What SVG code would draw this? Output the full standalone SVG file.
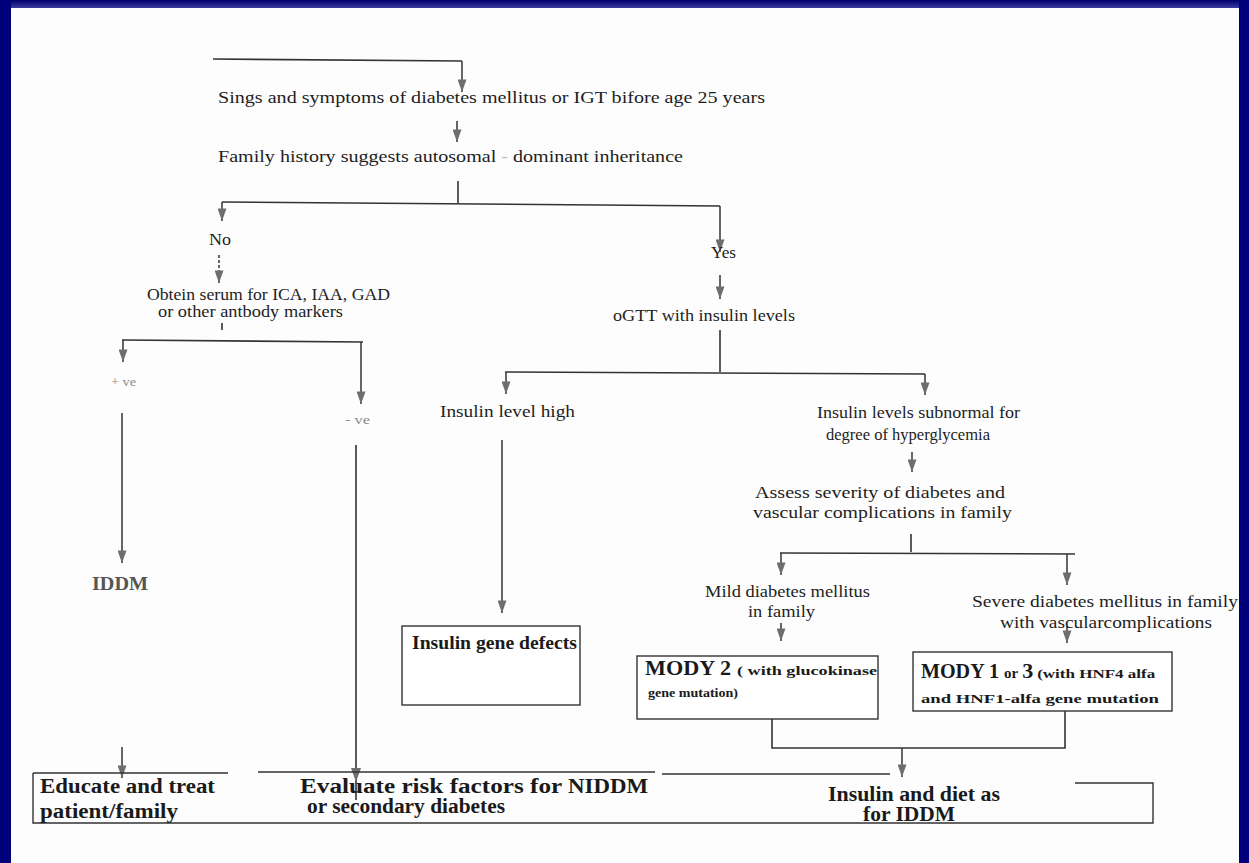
<svg xmlns="http://www.w3.org/2000/svg" width="1249" height="863" viewBox="0 0 1249 863">
<defs>
<style>
.t{font-family:"Liberation Serif","Times New Roman",serif;font-size:17px;fill:#1e1e1e}
.b{font-family:"Liberation Serif","Times New Roman",serif;font-weight:bold;fill:#1a1a1a}
.g{font-family:"Liberation Serif","Times New Roman",serif;font-size:13px;fill:#8a8a8a}
.ln{stroke:#333;stroke-width:1.6;fill:none}
.bx{stroke:#333;stroke-width:1.4;fill:#fff}
.ar{stroke:#333;stroke-width:1.5;fill:none;marker-end:url(#ah)}
</style>
<marker id="ah" viewBox="0 0 14 10" refX="14" refY="5" markerWidth="13" markerHeight="9" markerUnits="userSpaceOnUse" orient="auto">
<path d="M0,0 L14,5 L0,10 Z" fill="#6e6e6e"/>
</marker>
<linearGradient id="topg" x1="0" y1="0" x2="0" y2="1">
<stop offset="0" stop-color="#00006e"/>
<stop offset="1" stop-color="#3a3aa0"/>
</linearGradient>
</defs>
<rect x="0" y="0" width="1249" height="863" fill="#fdfdfd"/>
<g id="frame">
<rect x="0" y="0" width="1249" height="8" fill="url(#topg)"/>
<rect x="0" y="0" width="11" height="863" fill="#00007a"/>
<rect x="1239" y="0" width="10" height="863" fill="#00007a"/>
</g>
<g id="connectors">
<path class="ln" d="M213,59 L462,61"/>
<path class="ar" d="M462,61 L462,92"/>
<path class="ar" d="M457,121 L457,142"/>
<path class="ln" d="M458,181 L458,203"/>
<path class="ln" d="M222,202 L720,206"/>
<path class="ar" d="M222,202 L222,221"/>
<path class="ar" d="M219,255 L219,283" stroke-dasharray="3,2"/>
<path class="ln" d="M222,323 L222,330"/>
<path class="ln" d="M122,340 L363,342"/>
<path class="ar" d="M123,340 L123,362"/>
<path class="ar" d="M361,342 L361,404"/>
<path class="ar" d="M122,413 L122,563"/>
<path class="ln" d="M356,445 L356,800"/>
<path d="M351,768 L361,768 L356,782 Z" fill="#6e6e6e"/>
<path class="ar" d="M122,747 L122,778"/>
<path class="ar" d="M720,206 L720,252"/>
<path class="ar" d="M720,275 L720,299"/>
<path class="ln" d="M720,330 L720,372"/>
<path class="ln" d="M505,372 L925,374"/>
<path class="ar" d="M506,372 L506,394"/>
<path class="ar" d="M502,440 L502,613"/>
<path class="ar" d="M925,374 L925,395"/>
<path class="ar" d="M912,452 L912,472"/>
<path class="ln" d="M911,534 L911,552"/>
<path class="ln" d="M780,553 L1075,554"/>
<path class="ar" d="M781,553 L781,575"/>
<path class="ar" d="M1067,554 L1067,585"/>
<path class="ar" d="M781,623 L781,641"/>
<path class="ar" d="M1067,626 L1067,643"/>
<path class="ln" d="M772,719 L772,748 L1065,748 L1065,711"/>
<path class="ar" d="M902,748 L902,777"/>
</g>
<g id="n-start">
<text class="t" x="218" y="103" textLength="547" lengthAdjust="spacingAndGlyphs">Sings and symptoms of diabetes mellitus or IGT bifore age 25 years</text>
</g>
<g id="n-family">
<text class="t" x="218" y="162" textLength="465" lengthAdjust="spacingAndGlyphs">Family history suggests autosomal <tspan fill="#bbb">-</tspan> dominant  inheritance</text>
</g>
<g id="n-no">
<text class="t" x="209" y="245" textLength="22" lengthAdjust="spacingAndGlyphs">No</text>
</g>
<g id="n-serum">
<text class="t" x="147" y="300" textLength="243" lengthAdjust="spacingAndGlyphs">Obtein serum for ICA, IAA, GAD</text>
<text class="t" x="158" y="317" textLength="185" lengthAdjust="spacingAndGlyphs">or other antbody markers</text>
</g>
<g id="n-pos">
<text class="g" x="111" y="386" textLength="25" lengthAdjust="spacingAndGlyphs">+ ve</text>
</g>
<g id="n-neg">
<text class="g" x="345" y="424" textLength="25" lengthAdjust="spacingAndGlyphs">- ve</text>
</g>
<g id="n-iddm">
<text class="b" x="92" y="590" font-size="18" style="fill:#555" textLength="56" lengthAdjust="spacingAndGlyphs">IDDM</text>
</g>
<g id="n-yes">
<text class="t" x="711" y="258" textLength="25" lengthAdjust="spacingAndGlyphs">Yes</text>
</g>
<g id="n-ogtt">
<text class="t" x="613" y="321" textLength="182" lengthAdjust="spacingAndGlyphs">oGTT with insulin levels</text>
</g>
<g id="n-high">
<text class="t" x="440" y="417" textLength="135" lengthAdjust="spacingAndGlyphs">Insulin level high</text>
</g>
<g id="n-subnormal">
<text class="t" x="817" y="418" textLength="203" lengthAdjust="spacingAndGlyphs">Insulin levels subnormal for</text>
<text class="t" x="826" y="440" textLength="164" lengthAdjust="spacingAndGlyphs">degree of hyperglycemia</text>
</g>
<g id="n-assess">
<text class="t" x="755" y="498" textLength="250" lengthAdjust="spacingAndGlyphs">Assess severity of diabetes and</text>
<text class="t" x="753" y="518" textLength="259" lengthAdjust="spacingAndGlyphs">vascular complications in family</text>
</g>
<g id="n-mild">
<text class="t" x="705" y="597" textLength="165" lengthAdjust="spacingAndGlyphs">Mild diabetes mellitus</text>
<text class="t" x="748" y="617" textLength="67" lengthAdjust="spacingAndGlyphs">in family</text>
</g>
<g id="n-severe">
<text class="t" x="972" y="607" textLength="266" lengthAdjust="spacingAndGlyphs">Severe diabetes mellitus in family</text>
<text class="t" x="1000" y="628" textLength="212" lengthAdjust="spacingAndGlyphs">with vascularcomplications</text>
</g>
<g id="n-insgene">
<rect class="bx" x="402" y="626" width="178" height="79"/>
<text class="b" x="412" y="649" font-size="19" textLength="165" lengthAdjust="spacingAndGlyphs">Insulin gene  defects</text>
</g>
<g id="n-mody2">
<rect class="bx" x="637" y="656" width="241" height="63"/>
<text class="b" x="645" y="675" font-size="22"><tspan textLength="86" lengthAdjust="spacingAndGlyphs">MODY 2</tspan><tspan font-size="13" dx="6" textLength="140" lengthAdjust="spacingAndGlyphs">( with glucokinase</tspan></text>
<text class="b" x="648" y="697" font-size="13" textLength="90" lengthAdjust="spacingAndGlyphs">gene mutation)</text>
</g>
<g id="n-mody13">
<rect class="bx" x="913" y="652" width="259" height="59"/>
<text class="b" x="921" y="678" font-size="22"><tspan textLength="78" lengthAdjust="spacingAndGlyphs">MODY 1</tspan><tspan font-size="15" dx="5">or</tspan><tspan dx="4">3</tspan><tspan font-size="13" dx="4" textLength="118" lengthAdjust="spacingAndGlyphs">(with HNF4 alfa</tspan></text>
<text class="b" x="921" y="703" font-size="13" textLength="238" lengthAdjust="spacingAndGlyphs">and HNF1-alfa gene mutation</text>
</g>
<g id="n-bottom">
<path class="ln" style="stroke-width:1.4" d="M33,773 L228,773 M258,772 L655,772 M662,774 L890,774 M1075,783 L1153,783 L1153,823 L33,823 L33,773"/>
</g>
<g id="n-educate">
<text class="b" x="40" y="793" font-size="20" textLength="175" lengthAdjust="spacingAndGlyphs">Educate and treat</text>
<text class="b" x="40" y="818" font-size="20" textLength="138" lengthAdjust="spacingAndGlyphs">patient/family</text>
</g>
<g id="n-evaluate">
<text class="b" x="300" y="793" font-size="20"><tspan textLength="268" lengthAdjust="spacingAndGlyphs">Evaluate risk factors  for  </tspan><tspan font-size="22" textLength="80" lengthAdjust="spacingAndGlyphs">NIDDM</tspan></text>
<text class="b" x="307" y="813" font-size="20" textLength="198" lengthAdjust="spacingAndGlyphs">or secondary diabetes</text>
</g>
<g id="n-insdiet">
<text class="b" x="828" y="801" font-size="20" textLength="172" lengthAdjust="spacingAndGlyphs">Insulin and diet as</text>
<text class="b" x="863" y="821" font-size="20" textLength="92" lengthAdjust="spacingAndGlyphs">for IDDM</text>
</g>
</svg>
